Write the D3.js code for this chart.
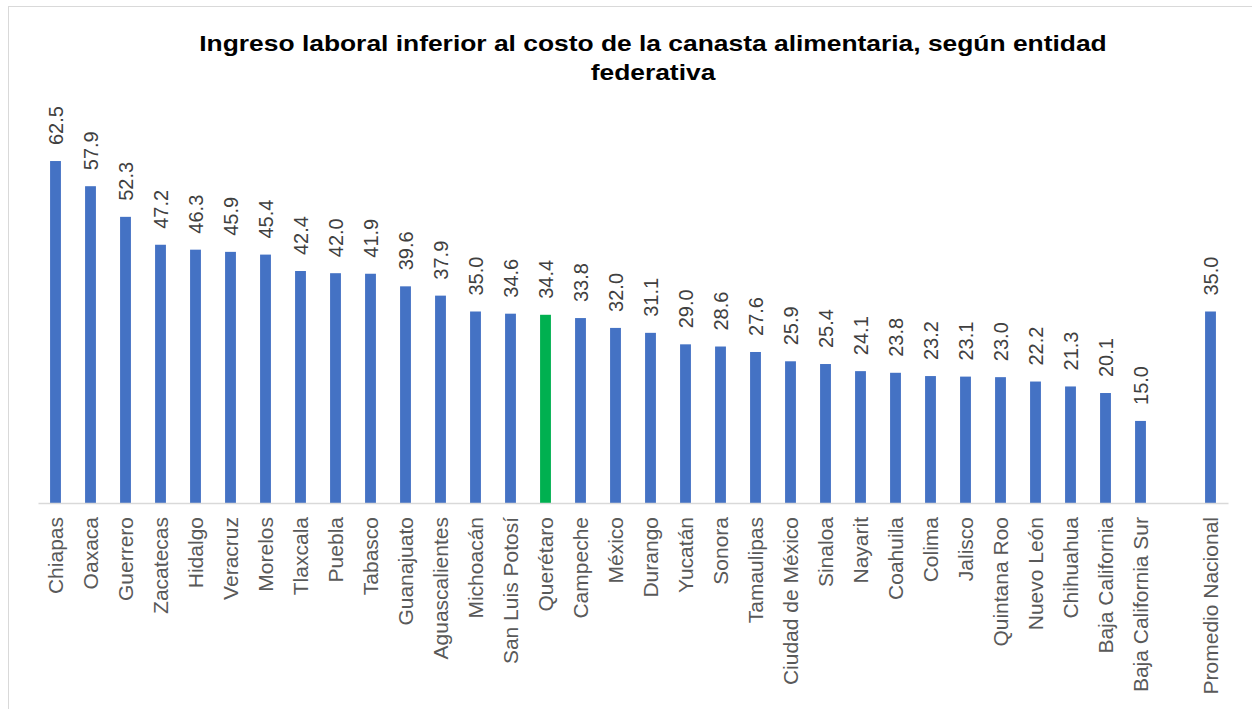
<!DOCTYPE html>
<html>
<head>
<meta charset="utf-8">
<script src="https://cdn.jsdelivr.net/npm/d3@7"></script>
<style>
  body { margin: 0; background: #fff; }
  text { font-family: "Liberation Sans", Arial, sans-serif; }
</style>
</head>
<body>
<div id="the_chart"></div>
<script>
// states, sorted as in the original chart
var states = ["Chiapas", "Oaxaca", "Guerrero", "Zacatecas", "Hidalgo", "Veracruz", "Morelos",
  "Tlaxcala", "Puebla", "Tabasco", "Guanajuato", "Aguascalientes", "Michoacán", "San Luis Potosí",
  "Querétaro", "Campeche", "México", "Durango", "Yucatán", "Sonora", "Tamaulipas",
  "Ciudad de México", "Sinaloa", "Nayarit", "Coahuila", "Colima", "Jalisco", "Quintana Roo",
  "Nuevo León", "Chihuahua", "Baja California", "Baja California Sur"];
var values = [62.5, 57.9, 52.3, 47.2, 46.3, 45.9, 45.4, 42.4, 42.0, 41.9, 39.6, 37.9, 35.0, 34.6,
  34.4, 33.8, 32.0, 31.1, 29.0, 28.6, 27.6, 25.9, 25.4, 24.1, 23.8, 23.2, 23.1, 23.0,
  22.2, 21.3, 20.1, 15.0];
var national_label = "Promedio Nacional";
var national_value = 35.0;
var highlight = "Querétaro";
var title_lines = ["Ingreso laboral inferior al costo de la canasta alimentaria, según entidad", "federativa"];

var w = 1252;
var h = 709;
var gap_key = "__gap__"; // empty slot between states and national average

var dataset = states.map(function(s, i) { return {name: s, value: values[i]}; });
dataset.push({name: national_label, value: national_value});

var svg = d3.select("#the_chart")
  .append("svg")
  .attr("width", w)
  .attr("height", h);

// chart border (only top and left show inside the picture)
svg.append("rect")
  .attr("x", 8.5).attr("y", 6.5)
  .attr("width", 1400).attr("height", 900)
  .attr("fill", "none")
  .attr("stroke", "#d9d9d9");

var domain = states.concat([gap_key, national_label]);

var xscale = d3.scaleBand()
  .domain(domain)
  .range([38, 1228])
  .paddingInner(0.69)
  .paddingOuter(0.345);

var yscale = d3.scaleLinear()
  .domain([0, 70])
  .range([503, 120]);

// title
var title = svg.append("g")
  .attr("transform", "translate(653,0) scale(1.2,1)");
title.selectAll("text")
  .data(title_lines)
  .enter().append("text")
  .attr("x", 0)
  .attr("y", function(d, i) { return 51 + i * 29; })
  .attr("text-anchor", "middle")
  .attr("font-size", "22px")
  .attr("font-weight", "bold")
  .attr("fill", "#000")
  .text(function(d) { return d; });

// bars
svg.selectAll("rect.bar")
  .data(dataset)
  .enter().append("rect")
  .attr("class", "bar")
  .attr("x", function(d) { return xscale(d.name); })
  .attr("width", xscale.bandwidth())
  .attr("y", function(d) { return yscale(d.value); })
  .attr("height", function(d) { return yscale(0) - yscale(d.value); })
  .attr("fill", function(d) { return d.name == highlight ? "#00b050" : "#4472c4"; });

// value labels
svg.selectAll("text.val")
  .data(dataset)
  .enter().append("text")
  .attr("class", "val")
  .attr("transform", function(d) {
    var cx = xscale(d.name) + xscale.bandwidth() / 2;
    return "translate(" + cx + "," + (yscale(d.value) - 16) + ") rotate(-90)";
  })
  .attr("dy", "0.35em")
  .attr("font-size", "20px")
  .attr("fill", "#404040")
  .text(function(d) { return d3.format(".1f")(d.value); });

// x axis
var xaxis = d3.axisBottom(xscale)
  .tickSize(0)
  .tickPadding(0)
  .tickFormat(function(d) { return d == gap_key ? "" : d; });

var gx = svg.append("g")
  .attr("transform", "translate(0," + yscale(0) + ")")
  .call(xaxis);

gx.select(".domain")
  .attr("stroke", "#d9d9d9")
  .attr("stroke-width", 1.5);

gx.selectAll(".tick text")
  .attr("transform", "translate(0,14) rotate(-90)")
  .attr("x", 0)
  .attr("y", 0)
  .attr("dy", "0.35em")
  .attr("text-anchor", "end")
  .attr("font-size", "21px")
  .attr("font-family", "Liberation Sans, Arial, sans-serif")
  .attr("fill", "#595959");
</script>
</body>
</html>
